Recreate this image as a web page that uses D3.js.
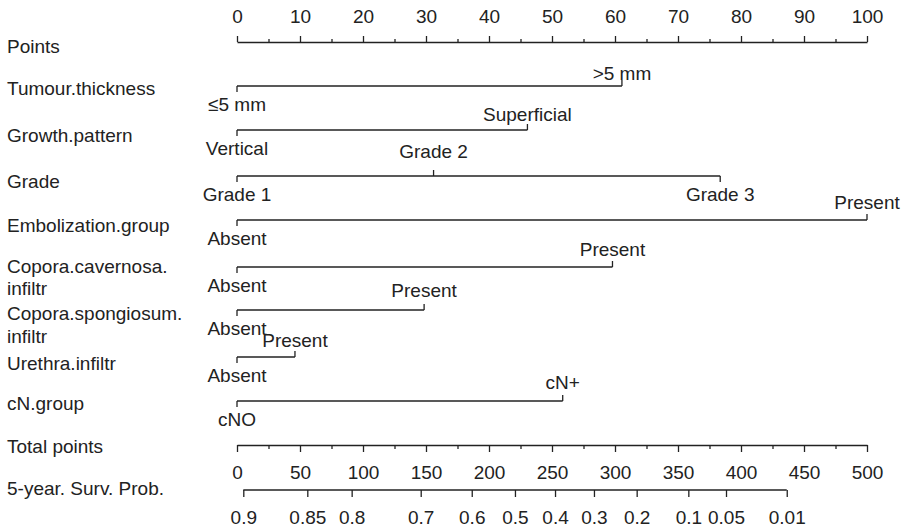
<!DOCTYPE html>
<html>
<head>
<meta charset="utf-8">
<script src="https://cdn.jsdelivr.net/npm/d3@7"></script>
<style>
  html, body { margin: 0; padding: 0; background: #fff; }
  svg text { font-family: "Liberation Sans", Arial, Helvetica, sans-serif; font-size: 19px; fill: #222; }
</style>
</head>
<body>
<svg id="chart" width="905" height="531"></svg>
<script>
// ---------------- DATA ----------------
const pointsMajorTicks = [0, 10, 20, 30, 40, 50, 60, 70, 80, 90, 100];
const pointsMinorTicks = [5, 15, 25, 35, 45, 55, 65, 75, 85, 95];

const variableNames = [
  "Tumour.thickness",
  "Growth.pattern",
  "Grade",
  "Embolization.group",
  "Copora.cavernosa.\ninfiltr",
  "Copora.spongiosum.\ninfiltr",
  "Urethra.infiltr",
  "cN.group"
];
const levelLabels = [
  ["\u22645 mm", ">5 mm"],
  ["Vertical", "Superficial"],
  ["Grade 1", "Grade 2", "Grade 3"],
  ["Absent", "Present"],
  ["Absent", "Present"],
  ["Absent", "Present"],
  ["Absent", "Present"],
  ["cNO", "cN+"]
];
const levelPoints = [
  [0, 61.1],
  [0, 46.1],
  [0, 31.2, 76.7],
  [0, 100],
  [0, 59.6],
  [0, 29.7],
  [0, 9.2],
  [0, 51.7]
];

const totalMajorTicks = [0, 50, 100, 150, 200, 250, 300, 350, 400, 450, 500];
const totalMinorTicks = [25, 75, 125, 175, 225, 275, 325, 375, 425, 475];

const survProbLabels = ["0.9", "0.85", "0.8", "0.7", "0.6", "0.5", "0.4", "0.3", "0.2", "0.1", "0.05", "0.01"];
const survTotalPoints = [5.0, 55.8, 91.0, 145.8, 186.3, 220.6, 252.4, 283.3, 317.2, 358.2, 388.1, 436.3];

// ---------------- LAYOUT ----------------
const X0 = 237, X1 = 867;
const FONT = "19px";
const rowY = [42, 86, 130, 176, 220, 267, 310, 357, 401, 445, 490]; // axis line y per row
const leftBaselines = [[52.7], [95], [141.7], [188], [231.7], [273, 295], [320, 343], [370], [410], [453], [495]];
const aboveLift = [6, 9, 18, 11, 11, 13, 10, 12];
const belowDrop = 25;
const tickLen = 6;
const ink = "#222";
const lw = 1.3;

const svg = d3.select("#chart");
const xPts = d3.scaleLinear().domain([0, 100]).range([X0, X1]);
const xTot = d3.scaleLinear().domain([0, 500]).range([X0, X1]);

function styleAxis(g) {
  g.selectAll("path.domain").attr("stroke", ink).attr("stroke-width", lw);
  g.selectAll(".tick line").attr("stroke", ink).attr("stroke-width", lw);
  g.selectAll(".tick text").attr("fill", ink).style("font-size", FONT)
    .style("font-family", '"Liberation Sans", Arial, Helvetica, sans-serif');
  g.attr("font-size", null).attr("font-family", null);
}

// Row labels on the left
const rowLabels = ["Points"].concat(variableNames, ["Total points", "5-year. Surv. Prob."]);
rowLabels.forEach((lab, i) => {
  const lines = lab.split("\n");
  lines.forEach((ln, j) => {
    svg.append("text").attr("x", 7).attr("y", leftBaselines[i][j]).text(ln);
  });
});

// Points axis (top)
const gPts = svg.append("g").attr("transform", `translate(0,${rowY[0]})`);
gPts.call(d3.axisTop(xPts).tickValues(pointsMajorTicks).tickSize(6).tickSizeOuter(0).tickPadding(13).tickFormat(d3.format("d")));
styleAxis(gPts);
const gPtsMinor = svg.append("g").attr("transform", `translate(0,${rowY[0]})`);
gPtsMinor.call(d3.axisTop(xPts).tickValues(pointsMinorTicks).tickSize(3).tickSizeOuter(0).tickFormat(""));
gPtsMinor.select("path.domain").remove();
styleAxis(gPtsMinor);

// Variable rows
variableNames.forEach((name, i) => {
  const y = rowY[i + 1];
  const pts = levelPoints[i];
  const g = svg.append("g");
  g.append("line")
    .attr("x1", xPts(d3.min(pts))).attr("x2", xPts(d3.max(pts)))
    .attr("y1", y).attr("y2", y)
    .attr("stroke", ink).attr("stroke-width", lw);
  pts.forEach((p, k) => {
    const above = k % 2 === 1;
    g.append("line")
      .attr("x1", xPts(p)).attr("x2", xPts(p))
      .attr("y1", y).attr("y2", above ? y - tickLen : y + tickLen)
      .attr("stroke", ink).attr("stroke-width", lw);
    g.append("text")
      .attr("x", xPts(p))
      .attr("y", above ? y - aboveLift[i] : y + belowDrop)
      .attr("text-anchor", "middle")
      .text(levelLabels[i][k]);
  });
});

// Total points axis
const yTot = rowY[9];
const gTot = svg.append("g").attr("transform", `translate(0,${yTot})`);
gTot.call(d3.axisBottom(xTot).tickValues(totalMajorTicks).tickSize(7).tickSizeOuter(0).tickPadding(14).tickFormat(d3.format("d")));
styleAxis(gTot);
const gTotMinor = svg.append("g").attr("transform", `translate(0,${yTot})`);
gTotMinor.call(d3.axisBottom(xTot).tickValues(totalMinorTicks).tickSize(4).tickSizeOuter(0).tickFormat(""));
gTotMinor.select("path.domain").remove();
styleAxis(gTotMinor);

// Survival probability axis
const ySurv = rowY[10];
const gSurv = svg.append("g").attr("transform", `translate(0,${ySurv})`);
gSurv.call(d3.axisBottom(xTot).tickValues(survTotalPoints).tickSize(7).tickSizeOuter(0).tickPadding(13.5)
  .tickFormat((d, i) => survProbLabels[i]));
gSurv.select("path.domain").remove();
gSurv.append("line")
  .attr("x1", xTot(d3.min(survTotalPoints))).attr("x2", xTot(d3.max(survTotalPoints)))
  .attr("y1", 0).attr("y2", 0)
  .attr("stroke", ink).attr("stroke-width", lw);
styleAxis(gSurv);
</script>
</body>
</html>
